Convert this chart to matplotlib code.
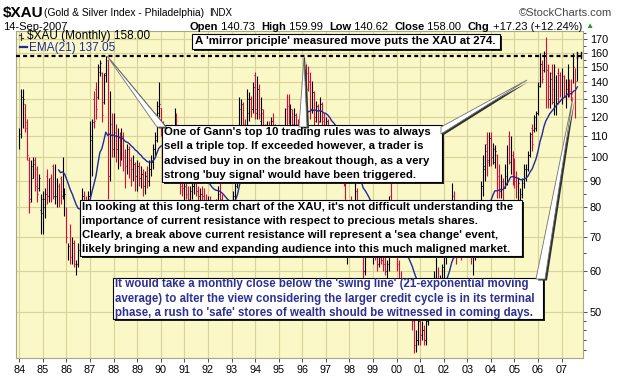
import numpy as np
import matplotlib
matplotlib.use('Agg')
import matplotlib.pyplot as plt
from matplotlib.patches import Rectangle, Polygon
from matplotlib.ticker import FixedLocator, NullFormatter

# $XAU monthly bars, Jan 1984 .. Sep 2007 (one row per year)
opens = [
    106, 111, 118, 127, 117, 99, 83, 91, 99, 95, 87, 79,
    78, 80, 92, 84, 91, 96, 84, 84, 88, 91, 84, 79,
    80, 66, 73, 63, 68, 60, 62, 66, 78, 84, 80, 79,
    84, 108, 130, 136, 131, 147, 146, 128, 146, 155, 92, 116,
    104, 112, 104, 110, 101, 110, 101, 96, 104, 99, 95, 97,
    92, 96, 91, 93, 88, 92, 90, 95, 98, 104, 108, 122,
    125, 114, 110, 106, 101, 108, 102, 106, 118, 112, 94, 88,
    87, 88, 85, 83, 86, 88, 89, 86, 84, 85, 84, 82,
    80, 82, 80, 77, 79, 81, 85, 83, 80, 77, 75, 74,
    76, 78, 84, 88, 104, 118, 127, 118, 110, 122, 130, 124,
    145, 122, 136, 118, 122, 112, 110, 114, 112, 118, 114, 106,
    104, 98, 102, 108, 124, 126, 118, 122, 118, 120, 116, 114,
    119, 136, 150, 146, 140, 124, 134, 120, 126, 118, 127, 120,
    114, 118, 113, 106, 100, 106, 102, 98, 95, 100, 90, 70,
    72, 78, 76, 80, 86, 78, 72, 68, 60, 76, 72, 70,
    66, 68, 64, 62, 68, 63, 62, 60, 62, 84, 74, 70,
    66, 62, 58, 56, 54, 52, 56, 52, 50, 48, 43, 44,
    48, 45, 46, 44, 48, 53, 52, 54, 56, 58, 55, 57,
    61, 64, 70, 72, 76, 84, 78, 66, 70, 71, 66, 69,
    72, 75, 70, 64, 64, 73, 75, 80, 88, 95, 106, 99,
    109, 100, 98, 101, 92, 86, 90, 87, 92, 110, 98, 101,
    96, 93, 84, 80, 84, 89, 91, 95, 101, 114, 113, 114,
    122, 138, 152, 148, 160, 148, 130, 146, 128, 126, 146, 145,
    130, 144, 131, 136, 141, 140, 141, 149, 140.73,
]
highs = [
    114, 136, 136, 127, 119, 100, 99, 100, 100, 96, 93, 85,
    86, 87, 95, 91, 93, 97, 97, 91, 89, 92, 100, 87,
    80, 68, 74, 70, 69, 63, 68, 80, 87, 86, 84, 86,
    118, 119, 135, 140, 152, 155, 147, 146, 158, 155, 135, 122,
    122, 116, 114, 112, 114, 112, 104, 106, 105, 100, 101, 98,
    99, 98, 96, 95, 94, 96, 99, 101, 106, 112, 129, 140,
    125, 118, 113, 109, 110, 110, 112, 125, 122, 114, 96, 92,
    92, 90, 88, 88, 91, 93, 92, 88, 87, 88, 87, 85,
    84, 84, 82, 80, 83, 88, 89, 85, 82, 79, 77, 78,
    80, 86, 89, 108, 131, 130, 128, 119, 136, 134, 132, 140,
    147, 144, 139, 131, 124, 116, 118, 118, 120, 122, 116, 110,
    108, 104, 112, 125, 133, 133, 127, 124, 125, 122, 119, 121,
    140, 157, 152, 151, 147, 141, 135, 129, 127, 131, 128, 122,
    120, 119, 114, 108, 110, 108, 104, 100, 102, 101, 91, 78,
    80, 84, 82, 89, 87, 80, 74, 70, 80, 80, 76, 72,
    70, 70, 67, 70, 70, 66, 64, 63, 84, 89, 78, 72,
    67, 63, 60, 58, 56, 58, 58, 54, 52, 49, 46, 50,
    49, 48, 47, 49, 55, 56, 57, 60, 64, 61, 59, 62,
    66, 72, 74, 78, 89, 86, 79, 72, 74, 72, 70, 74,
    78, 76, 71, 66, 75, 77, 82, 90, 101, 106, 112, 112,
    112, 106.5, 105.5, 101.3, 96.9, 92.6, 91.2, 96.9, 105.5, 112.4, 110, 102.7,
    99.8, 94, 91.2, 87.2, 91.2, 96.9, 96.9, 102.7, 112, 116, 121, 123,
    140, 160, 155, 161, 172, 152, 147, 152, 152, 144.5, 149.6, 147,
    149.6, 144.5, 142, 152, 142, 142, 160, 149.6, 159.99,
]
lows = [
    104, 109, 114, 112, 99, 78, 82, 91, 86, 82, 86, 71,
    71, 76, 81, 82, 82, 83, 81, 80, 80, 81, 83, 77,
    68, 63, 62, 62, 61, 59, 61, 65, 76, 76, 75, 78,
    84, 92, 114, 119, 130, 144, 117, 127, 140, 83, 90, 100,
    100, 98, 95, 96, 99, 94, 87, 93, 91, 88, 90, 86,
    86, 88, 87, 84, 85, 87, 88, 92, 95, 100, 107, 120,
    110, 106, 102, 98, 100, 100, 101, 104, 108, 92, 85, 84,
    82, 83, 81, 80, 83, 85, 84, 82, 81, 82, 80, 78,
    77, 78, 76, 74, 76, 79, 81, 78, 75, 73, 70, 71,
    73, 76, 82, 87, 102, 114, 113, 105, 108, 118, 120, 122,
    119, 119, 119, 114, 110, 106, 106, 108, 108, 112, 104, 100,
    92, 95, 100, 106, 114, 116, 114, 112, 114, 113, 112, 112,
    117, 134, 131, 135, 119, 122, 114, 117, 114, 117, 114, 112,
    110, 110, 102, 96, 98, 98, 95, 91, 92, 88, 72, 62,
    66, 74, 73, 78, 76, 70, 66, 58, 59, 70, 68, 64,
    62, 63, 60, 61, 62, 60, 59, 57, 60, 72, 68, 64,
    60, 56, 54, 52, 50, 50, 51, 50, 46, 41.5, 41.8, 43,
    43, 44, 43, 43, 47, 50, 50, 52, 54, 53, 53, 55,
    58, 62, 66, 70, 75, 74, 62, 64, 67, 63, 64, 66,
    70, 68, 62, 59, 63, 70, 73, 79, 84, 90, 92, 96,
    96, 97, 95.4, 83.4, 83.4, 83.4, 82.1, 87.2, 88.5, 96.9, 92.6, 88.5,
    87.2, 83.4, 80.9, 78.5, 83.4, 87.2, 89.8, 94, 100, 102.7, 112, 112.4,
    121, 137, 139.5, 147, 125, 125, 125, 127, 121, 121, 127, 131,
    127, 131, 125, 131, 131, 129, 139.5, 119.4, 140.62,
]
closes = [
    111, 131, 130, 114, 101, 82, 96, 97, 88, 85, 91, 83,
    83, 85, 84, 88, 84, 85, 95, 90, 81, 82, 97, 85,
    70, 67, 64, 68, 62, 62, 66, 78, 84, 79, 77, 84,
    110, 117, 118, 124, 150, 153, 121, 145, 155, 94, 118, 104,
    112, 105, 108, 103, 110, 100, 96, 104, 99, 95, 97, 92,
    96, 91, 93, 88, 92, 90, 95, 98, 104, 110, 126, 127,
    114, 110, 106, 101, 108, 102, 108, 118, 112, 94, 88, 87,
    88, 85, 83, 86, 88, 89, 86, 84, 85, 84, 82, 80,
    82, 80, 77, 79, 81, 85, 83, 80, 77, 75, 74, 76,
    78, 84, 88, 104, 124, 127, 116, 108, 130, 130, 124, 137,
    124, 136, 121, 124, 114, 110, 114, 112, 118, 114, 106, 104,
    98, 102, 108, 122, 118, 119, 124, 116, 121, 116, 114, 119,
    137, 148, 136, 141, 124, 134, 118, 126, 117, 127, 118, 114,
    118, 113, 106, 100, 106, 102, 98, 95, 100, 90, 74, 72,
    78, 76, 80, 86, 78, 72, 68, 60, 76, 72, 70, 66,
    68, 64, 62, 68, 63, 62, 60, 62, 80, 74, 70, 66,
    62, 58, 56, 54, 52, 56, 52, 50, 48, 43, 44, 48,
    45, 46, 44, 48, 53, 52, 54, 56, 58, 55, 57, 61,
    64, 70, 72, 76, 84, 78, 66, 70, 71, 66, 69, 72,
    75, 70, 64, 64, 73, 75, 80, 88, 96, 103, 98, 109,
    100, 104, 103, 86, 88, 90, 86, 94, 104, 101, 108, 94,
    90, 88, 89, 85, 89, 95, 95, 101, 111, 106, 120, 122,
    138, 152, 142, 158, 148, 138, 142, 136, 138, 140, 142, 138,
    145, 139, 141, 146, 135, 133, 150, 140.73, 158.0,
]

year_ticks = list(range(1984, 2008))
year_labels = ['%02d' % (y % 100) for y in year_ticks]
price_ticks = [50, 60, 70, 80, 90, 100, 110, 120, 130, 140, 150, 160, 170]
minor_ticks = [42, 44, 46, 48, 55, 65, 75, 85, 95, 105, 115, 125, 135, 145, 155, 165, 175]
resistance = 158.0
ema_span = 21

RED = '#DC0A3C'
NAVY = '#1F2A9C'
TXT_BLUE = '#2E3192'

plt.rcParams['font.family'] = ['Liberation Sans', 'DejaVu Sans']

W, H = 620, 376
fig = plt.figure(figsize=(W / 100, H / 100), dpi=100)
fig.patch.set_facecolor('white')

# price panel
L0, R0, T0, B0 = 16, 583, 31, 358
ax = fig.add_axes([L0 / W, 1 - B0 / H, (R0 - L0) / W, (B0 - T0) / H])
ax.set_facecolor('#FAF8C6')

n = len(closes)
t = 1984 + np.arange(n) / 12.0
o = np.array(opens, float)
hi = np.array(highs, float)
lo = np.array(lows, float)
c = np.array(closes, float)
cols = np.where(c >= o, 'black', RED)

ax.vlines(t, lo, hi, colors=cols, lw=0.8, zorder=3)
tw = 0.03
ax.hlines(o, t - tw, t, colors=cols, lw=0.8, zorder=3)
ax.hlines(c, t, t + tw, colors=cols, lw=0.8, zorder=3)

# EMA(21) seeded with the simple average of the first 21 closes
ema = np.full(n, np.nan)
ema[ema_span - 1] = c[:ema_span].mean()
k = 2.0 / (ema_span + 1)
for i in range(ema_span, n):
    ema[i] = ema[i - 1] + k * (c[i] - ema[i - 1])
ax.plot(t, ema, color=NAVY, lw=1.0, zorder=4)

ax.axhline(resistance, color='black', lw=1.6, ls=(0, (1.8, 1.4)), zorder=5)

ax.set_yscale('log')
ax.set_xlim(1983.86, 2007.906)
ax.set_ylim(40.6, 176.4)
ax.yaxis.tick_right()
ax.yaxis.set_major_locator(FixedLocator(price_ticks))
ax.set_yticklabels([str(v) for v in price_ticks])
ax.yaxis.set_minor_locator(FixedLocator(minor_ticks))
ax.yaxis.set_minor_formatter(NullFormatter())
ax.set_xticks(year_ticks)
ax.set_xticklabels(year_labels)
ax.tick_params(axis='both', labelsize=7.8, colors='#333333', labelcolor='black',
               length=3, width=0.6, pad=2)
ax.tick_params(axis='y', which='minor', length=2, width=0.5)
ax.grid(True, which='major', color='#D6D39C', lw=0.8, zorder=0)
for s in ax.spines.values():
    s.set_color('#A8A684')
    s.set_linewidth(0.8)

# overlay in pixel coordinates for titles and call-outs
ov = fig.add_axes([0, 0, 1, 1], zorder=10)
ov.set_xlim(0, W)
ov.set_ylim(H, 0)
ov.axis('off')

fig.canvas.draw()
rend = fig.canvas.get_renderer()


def text_w(s, size, weight='normal'):
    tt = ov.text(0, 0, s, fontsize=size, fontweight=weight)
    w = tt.get_window_extent(rend).width
    tt.remove()
    return w


def fit(s, target, weight='bold'):
    return 8.0 * target / text_w(s, 8.0, weight)


def box(x0, y0, x1, y1):
    ov.add_patch(Rectangle((x0 + 2, y0 + 2), x1 - x0, y1 - y0, fc='#202020', ec='none', zorder=1))
    ov.add_patch(Rectangle((x0, y0), x1 - x0, y1 - y0, fc='white', ec='black', lw=0.8, zorder=2))


def wedge(pts):
    sh = [(x + 2, y + 1.5) for x, y in pts]
    ov.add_patch(Polygon(sh, closed=True, fc='#303030', ec='none', zorder=3))
    ov.add_patch(Polygon(pts, closed=True, fc='white', ec='#707070', lw=0.6, zorder=4))


def lines(x, ys, rows, width, color='black'):
    size = fit(rows[0], width)
    for y, s in zip(ys, rows):
        ov.text(x, y + 0.5, s, fontsize=size, fontweight='bold', color=color, va='center', ha='left', zorder=6)


# header
ov.text(3, 13, r'\$XAU', fontsize=11, fontweight='bold', va='center')
title = '(Gold & Silver Index - Philadelphia)'
ov.text(44, 13.5, title, fontsize=7.4, va='center')
xt = 44 + text_w(title, 7.4) + 5
ov.text(xt, 13.5, 'INDX', fontsize=7, va='center')
ov.text(612, 13, '\u00a9StockCharts.com', fontsize=8, color='#444444', va='center', ha='right')
ov.text(3, 27, '14-Sep-2007', fontsize=8, va='center')

pieces = [('Open', True), (' 140.73  ', False), ('High', True), (' 159.99  ', False),
          ('Low', True), (' 140.62  ', False), ('Close', True), (' 158.00  ', False),
          ('Chg', True), (' +17.23 (+12.24%)', False)]
xcur = 189
for s, b in pieces:
    wt = 'bold' if b else 'normal'
    ov.text(xcur, 27, s, fontsize=8, fontweight=wt, va='center')
    xcur += text_w(s, 8, wt)
ov.text(xcur + 3, 27, '\u25b2', fontsize=6, color='#1E9E1E', va='center')

# legend inside the panel
ov.plot([21, 21], [33, 40], color='#333333', lw=0.8)
ov.plot([19, 21], [35, 35], color='#333333', lw=0.8)
ov.plot([21, 23], [38, 38], color='#333333', lw=0.8)
ov.text(27, 36.5, r'\$XAU (Monthly) 158.00', fontsize=8.5, va='center')
ov.plot([20, 27], [47, 47], color=NAVY, lw=1.6)
ov.text(29, 47.5, 'EMA(21) 137.05', fontsize=8.5, color=NAVY, va='center')

# small cap at the right end of the resistance line
ov.plot([577, 577], [52, 58], color='black', lw=1.0)
ov.plot([581, 581], [52, 58], color='black', lw=1.0)

# call-outs
box(192, 33.5, 500, 48.5)
lines(195, [41], ["A 'mirror priciple' measured move puts the XAU at 274."], 300)

box(162, 125, 442, 182)
wedge([(157, 127), (166, 127), (107, 56)])
wedge([(299, 127), (307, 127), (304, 58)])
wedge([(441, 127), (441, 134), (527, 80)])
lines(164, [131.7, 145.7, 160, 174.3],
      ["One of Gann's top 10 trading rules was to always",
       "sell a triple top. If exceeded however, a trader is",
       "advised buy in on the breakout though, as a very",
       "strong 'buy signal' would have been triggered."], 267)

box(80, 199.5, 522, 256)
lines(82, [206, 220, 234, 248.3],
      ["In looking at this long-term chart of the XAU, it's not difficult understanding the",
       "importance of current resistance with respect to precious metals shares.",
       "Clearly, a break above current resistance will represent a 'sea change' event,",
       "likely bringing a new and expanding audience into this much maligned market."], 432)

box(113, 277.5, 543, 319)
wedge([(536, 279), (545, 279), (573, 97)])
lines(115, [284, 298.3, 312.3],
      ["It would take a monthly close below the 'swing line' (21-exponential moving",
       "average) to alter the view considering the larger credit cycle is in its terminal",
       "phase, a rush to 'safe' stores of wealth should be witnessed in coming days."],
      415, color=TXT_BLUE)

fig.savefig('out.png', dpi=100)
